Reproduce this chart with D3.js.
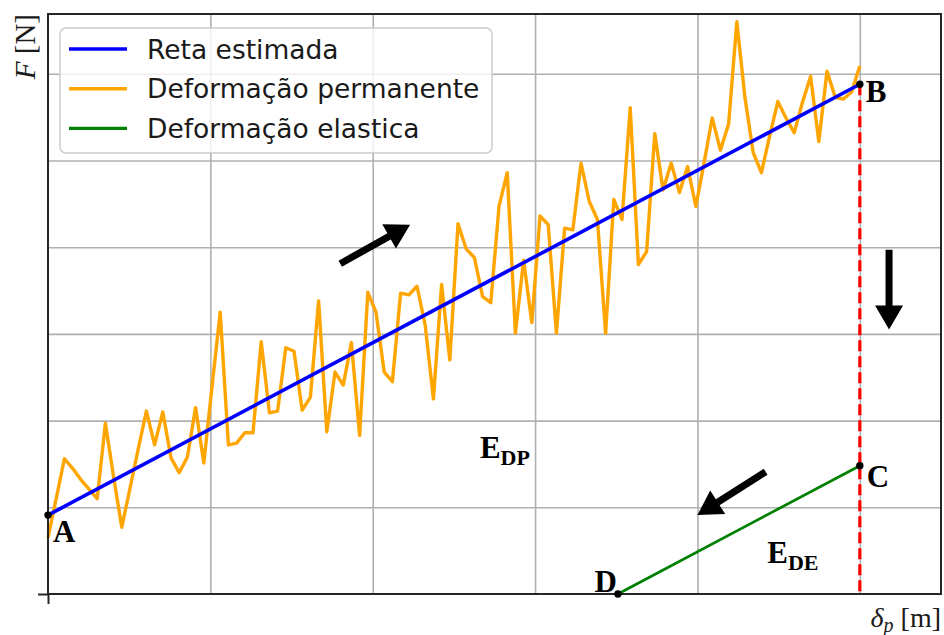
<!DOCTYPE html>
<html>
<head>
<meta charset="utf-8">
<script src="https://cdn.jsdelivr.net/npm/d3@7"></script>
<style>
  html, body { margin: 0; padding: 0; background: #ffffff; }
  svg { display: block; }
</style>
</head>
<body>
<svg id="chart" width="944" height="635"></svg>
<script>
// Measured force along the permanent-deformation stage (100 evenly spaced samples, δp from 0 to 5)
const deformationValues = [
  0.65, 1.10, 1.56, 1.45, 1.32, 1.21, 1.10, 1.97, 1.35, 0.77,
  1.22, 1.67, 2.11, 1.72, 2.10, 1.57, 1.40, 1.58, 2.15, 1.51,
  2.39, 3.25, 1.72, 1.74, 1.86, 1.86, 2.91, 2.09, 2.11, 2.84,
  2.80, 2.12, 2.27, 3.38, 1.87, 2.56, 2.41, 2.90, 1.83, 3.48,
  3.25, 2.56, 2.45, 3.47, 3.45, 3.55, 3.10, 2.25, 3.57, 2.70,
  4.27, 3.98, 3.88, 3.43, 3.36, 4.47, 4.86, 3.01, 3.85, 3.13,
  4.36, 4.26, 3.01, 4.22, 4.20, 4.97, 4.53, 4.32, 3.01, 4.55,
  4.32, 5.61, 3.80, 3.95, 5.31, 4.66, 4.97, 4.63, 4.93, 4.47,
  4.97, 5.49, 5.12, 5.42, 6.60, 5.72, 5.09, 4.86, 5.28, 5.68,
  5.49, 5.32, 5.67, 5.97, 5.22, 6.03, 5.73, 5.71, 5.79, 6.09
];
const deformationStart = 0;
const deformationEnd = 5;

// Fitted straight line A -> B
const estimatedX = [0, 5];
const estimatedY = [0.91, 5.88];

// Elastic recovery D -> C
const elasticX = [3.51, 5];
const elasticY = [0, 1.48];

// Unloading B -> (5, 0)
const unloadX = [5, 5];
const unloadY = [5.88, 0];

// Named states
const pointNames = ["A", "B", "C", "D"];
const pointX = [0, 5, 5, 3.51];
const pointY = [0.91, 5.88, 1.48, 0];

const legendLabels = ["Reta estimada", "Deformação permanente", "Deformação elastica"];
const xGridValues = [1, 2, 3, 4, 5];
const yGridValues = [1, 2, 3, 4, 5, 6];

// ---------------------------------------------------------------
const svg = d3.select("#chart");
const plot = { left: 48, right: 941, top: 14, bottom: 594 };

const x = d3.scaleLinear().domain([0, 5.5]).range([plot.left, plot.right]);
const y = d3.scaleLinear().domain([0, 6.69]).range([plot.bottom, plot.top]);

const colors = { est: "#0000ff", perm: "#ffa500", elas: "#008000", unload: "#ff0000" };

// grid
svg.append("g")
  .attr("transform", `translate(0,${plot.bottom})`)
  .call(d3.axisBottom(x).tickValues(xGridValues).tickSize(-(plot.bottom - plot.top)).tickFormat(""))
  .call(g => g.select(".domain").remove())
  .call(g => g.selectAll("line").attr("stroke", "#b0b0b0").attr("stroke-width", 1.6));
svg.append("g")
  .attr("transform", `translate(${plot.left},0)`)
  .call(d3.axisLeft(y).tickValues(yGridValues).tickSize(-(plot.right - plot.left)).tickFormat(""))
  .call(g => g.select(".domain").remove())
  .call(g => g.selectAll("line").attr("stroke", "#b0b0b0").attr("stroke-width", 1.6));

// origin ticks
svg.append("g")
  .attr("transform", `translate(0,${plot.bottom})`)
  .call(d3.axisBottom(x).tickValues([0]).tickSize(10).tickFormat(""))
  .call(g => g.select(".domain").remove())
  .call(g => g.selectAll("line").attr("stroke", "#262626").attr("stroke-width", 2));
svg.append("g")
  .attr("transform", `translate(${plot.left},0)`)
  .call(d3.axisLeft(y).tickValues([0]).tickSize(10).tickFormat(""))
  .call(g => g.select(".domain").remove())
  .call(g => g.selectAll("line").attr("stroke", "#262626").attr("stroke-width", 2));

const line = d3.line().x(d => x(d[0])).y(d => y(d[1]));
const n = deformationValues.length;
const permData = deformationValues.map((v, i) =>
  [deformationStart + (deformationEnd - deformationStart) * i / (n - 1), v]);
const estData = estimatedX.map((v, i) => [v, estimatedY[i]]);
const elasData = elasticX.map((v, i) => [v, elasticY[i]]);
const unloadData = unloadX.map((v, i) => [v, unloadY[i]]);

svg.append("path").datum(permData).attr("d", line)
  .attr("fill", "none").attr("stroke", colors.perm).attr("stroke-width", 3.4)
  .attr("stroke-linejoin", "round");
svg.append("path").datum(estData).attr("d", line)
  .attr("fill", "none").attr("stroke", colors.est).attr("stroke-width", 3.6);
svg.append("path").datum(elasData).attr("d", line)
  .attr("fill", "none").attr("stroke", colors.elas).attr("stroke-width", 2.7);
svg.append("path").datum(unloadData).attr("d", line)
  .attr("fill", "none").attr("stroke", colors.unload).attr("stroke-width", 3.2)
  .attr("stroke-dasharray", "11,5");

// frame
svg.append("rect")
  .attr("x", plot.left).attr("y", plot.top)
  .attr("width", plot.right - plot.left).attr("height", plot.bottom - plot.top)
  .attr("fill", "none").attr("stroke", "#262626").attr("stroke-width", 2);

// state markers and letters
const pts = pointNames.map((name, i) => ({ name, x: pointX[i], y: pointY[i] }));
svg.selectAll("circle.state").data(pts).join("circle")
  .attr("class", "state")
  .attr("cx", d => x(d.x)).attr("cy", d => y(d.y)).attr("r", 3.7).attr("fill", "#000");

const letterOffset = { A: [5, 27, "start"], B: [6, 18, "start"], C: [7, 21, "start"], D: [-1, -2, "end"] };
svg.selectAll("text.state").data(pts).join("text")
  .attr("class", "state")
  .attr("x", d => x(d.x) + letterOffset[d.name][0])
  .attr("y", d => y(d.y) + letterOffset[d.name][1])
  .attr("text-anchor", d => letterOffset[d.name][2])
  .attr("font-family", "Liberation Serif, Times New Roman, serif")
  .attr("font-weight", "bold").attr("font-size", 31).attr("fill", "#000")
  .text(d => d.name);

// energy labels
const energyLabels = [
  { main: "E", sub: "DP", x: 2.66, y: 1.57 },
  { main: "E", sub: "DE", x: 4.43, y: 0.36 }
];
energyLabels.forEach(e => {
  const t = svg.append("text")
    .attr("x", x(e.x)).attr("y", y(e.y))
    .attr("font-family", "Liberation Serif, Times New Roman, serif")
    .attr("font-weight", "bold").attr("font-size", 31).attr("fill", "#000");
  t.append("tspan").text(e.main);
  t.append("tspan").attr("dy", 7).attr("font-size", 22).text(e.sub);
});

// direction arrows
const arrows = [
  { from: [1.80, 3.81], to: [2.23, 4.26] },
  { from: [5.18, 3.97], to: [5.18, 3.05] },
  { from: [4.42, 1.41], to: [4.00, 0.91] }
];
const shaftW = 7, headW = 28, headL = 24;
arrows.forEach(a => {
  const x0 = x(a.from[0]), y0 = y(a.from[1]);
  const x1 = x(a.to[0]), y1 = y(a.to[1]);
  const len = Math.hypot(x1 - x0, y1 - y0);
  const ux = (x1 - x0) / len, uy = (y1 - y0) / len;
  const px = -uy, py = ux;
  const bx = x1 - ux * headL, by = y1 - uy * headL;
  const p = [
    [x0 + px * shaftW / 2, y0 + py * shaftW / 2],
    [bx + px * shaftW / 2, by + py * shaftW / 2],
    [bx + px * headW / 2, by + py * headW / 2],
    [x1, y1],
    [bx - px * headW / 2, by - py * headW / 2],
    [bx - px * shaftW / 2, by - py * shaftW / 2],
    [x0 - px * shaftW / 2, y0 - py * shaftW / 2]
  ];
  svg.append("polygon").attr("points", p.map(q => q.join(",")).join(" ")).attr("fill", "#000");
});

// legend
const lg = svg.append("g");
lg.append("rect")
  .attr("x", 60).attr("y", 28).attr("width", 432).attr("height", 125)
  .attr("rx", 6).attr("fill", "#ffffff").attr("fill-opacity", 0.8)
  .attr("stroke", "#cccccc").attr("stroke-width", 1.5);
const legendColors = [colors.est, colors.perm, colors.elas];
legendLabels.forEach((label, i) => {
  const cy = 49 + i * 39.7;
  lg.append("line").attr("x1", 69).attr("x2", 127).attr("y1", cy).attr("y2", cy)
    .attr("stroke", legendColors[i]).attr("stroke-width", 3.4);
  lg.append("text").attr("x", 147).attr("y", cy + 9.5)
    .attr("font-family", "DejaVu Sans, sans-serif").attr("font-size", 26.5)
    .attr("fill", "#1a1a1a").text(label);
});

// axis labels
const yl = svg.append("text")
  .attr("transform", `translate(35,${plot.top}) rotate(-90)`)
  .attr("text-anchor", "end")
  .attr("font-family", "Liberation Serif, Times New Roman, serif")
  .attr("font-size", 29).attr("fill", "#1a1a1a");
yl.append("tspan").attr("font-style", "italic").text("F");
yl.append("tspan").text(" [N]");

const xl = svg.append("text")
  .attr("x", plot.right).attr("y", 627)
  .attr("text-anchor", "end")
  .attr("font-family", "Liberation Serif, Times New Roman, serif")
  .attr("font-size", 28).attr("fill", "#1a1a1a");
xl.append("tspan").attr("font-style", "italic").text("δ");
xl.append("tspan").attr("font-style", "italic").attr("font-size", 20).attr("dy", 5).text("p");
xl.append("tspan").attr("dy", -5).text(" [m]");
</script>
</body>
</html>
